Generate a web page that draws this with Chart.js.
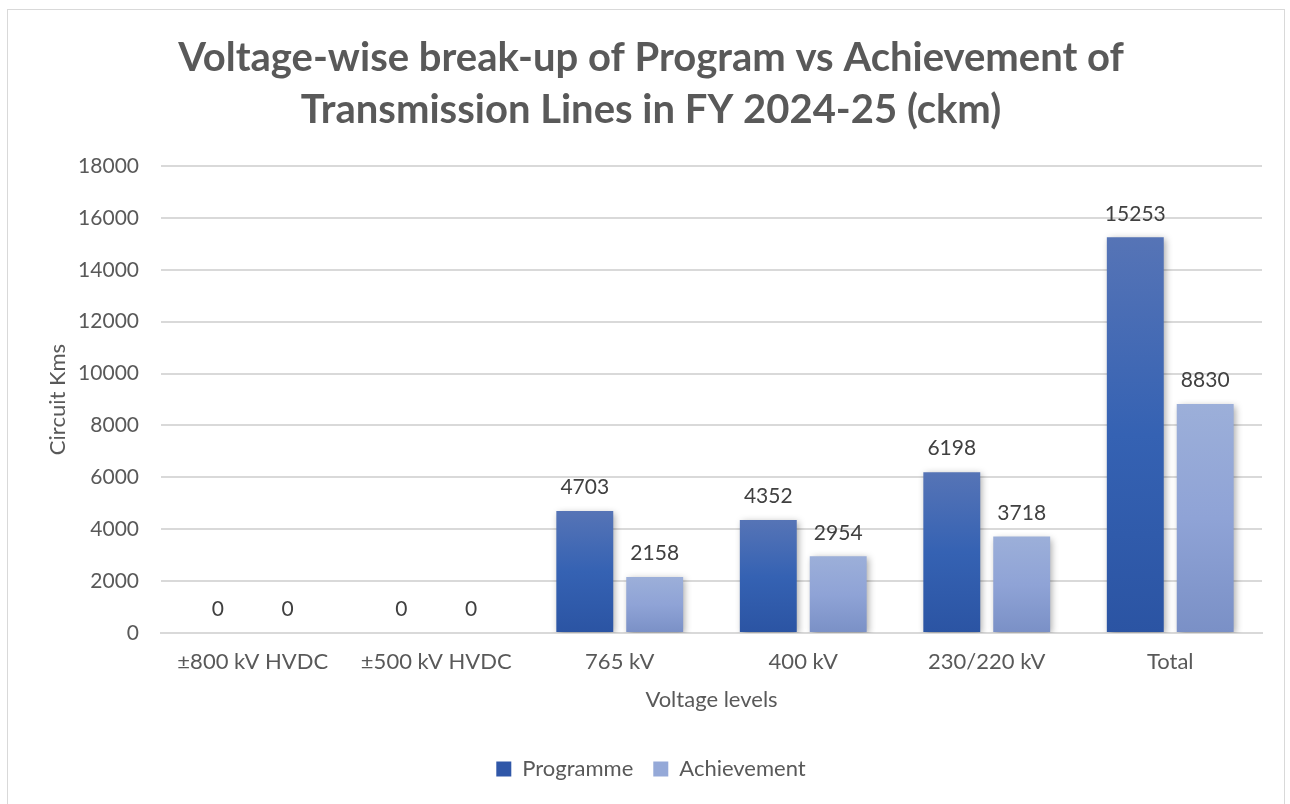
<!DOCTYPE html>
<html>
<head>
<meta charset="utf-8">
<script src="https://cdn.jsdelivr.net/npm/chart.js@4.4.0/dist/chart.umd.min.js"></script>
<style>
  html,body{margin:0;padding:0;background:#fff;}
  #frame{position:absolute;left:7px;top:9px;width:1278px;height:810px;border:1px solid #d9d9d9;box-sizing:border-box;}
  #wrap{position:absolute;left:0;top:0;width:1290px;height:804px;}
</style>
</head>
<body>
<div id="frame"></div>
<div id="wrap"><canvas id="c" width="1290" height="804"></canvas></div>
<script>
const categories = ['±800 kV HVDC', '±500 kV HVDC', '765 kV', '400 kV', '230/220 kV', 'Total'];
const programme = [0, 0, 4703, 4352, 6198, 15253];
const achievement = [0, 0, 2158, 2954, 3718, 8830];
const yTicks = [0, 2000, 4000, 6000, 8000, 10000, 12000, 14000, 16000, 18000];
const titleLines = ['Voltage-wise break-up of Program vs Achievement of', 'Transmission Lines in FY 2024-25 (ckm)'];

const FONT = 'Lato, Calibri, "Open Sans", sans-serif';
const TEXT = '#595959';

function barGradient(top, bottom) {
  return function(ctx) {
    const chart = ctx.chart;
    const ys = chart.scales && chart.scales.y;
    if (!chart.chartArea || !ys || ctx.type !== 'data') return bottom;
    const v = ctx.raw;
    const yTop = ys.getPixelForValue(v);
    const yBase = ys.getPixelForValue(0);
    if (!isFinite(yTop) || Math.abs(yBase - yTop) < 1) return bottom;
    const g = chart.ctx.createLinearGradient(0, yTop, 0, yBase);
    g.addColorStop(0, top[0]);
    g.addColorStop(0.5, top[1]);
    g.addColorStop(1, bottom);
    return g;
  };
}

const shadowPlugin = {
  id: 'shadow',
  beforeDatasetsDraw(chart) {
    const c = chart.ctx;
    c.save();
    c.shadowColor = 'rgba(0,0,0,0.35)';
    c.shadowBlur = 7;
    c.shadowOffsetX = 2;
    c.shadowOffsetY = 2;
  },
  afterDatasetsDraw(chart) {
    chart.ctx.restore();
  }
};

const labelPlugin = {
  id: 'vals',
  afterDatasetsDraw(chart) {
    const c = chart.ctx;
    c.save();
    c.font = '21px ' + FONT;
    c.fillStyle = '#404040';
    c.textAlign = 'center';
    c.textBaseline = 'bottom';
    chart.data.datasets.forEach((ds, i) => {
      const meta = chart.getDatasetMeta(i);
      meta.data.forEach((el, j) => {
        c.fillText(String(ds.data[j]), el.x, el.y - 13);
      });
    });
    c.restore();
  }
};

new Chart(document.getElementById('c'), {
  type: 'bar',
  data: {
    labels: categories,
    datasets: [
      {
        label: 'Programme',
        data: programme,
        backgroundColor: barGradient(['#5674b6', '#3562b3'], '#2b54a3'),
        legendColor: '#3057a8',
        borderWidth: 0,
        categoryPercentage: 0.762,
        barPercentage: 0.814
      },
      {
        label: 'Achievement',
        data: achievement,
        backgroundColor: barGradient(['#9cafd9', '#8fa3d6'], '#7a90c6'),
        legendColor: '#95a9d8',
        borderWidth: 0,
        categoryPercentage: 0.762,
        barPercentage: 0.814
      }
    ]
  },
  options: {
    responsive: false,
    animation: false,
    layout: { padding: { left: 40, right: 28, top: 32, bottom: 14 } },
    plugins: {
      title: {
        display: true,
        text: titleLines,
        color: TEXT,
        font: { family: FONT, size: 40, weight: 'bold', lineHeight: 1.3 },
        padding: { top: 0, bottom: 30 }
      },
      legend: {
        position: 'bottom',
        labels: {
          font: { family: FONT, size: 22 },
          color: TEXT,
          boxWidth: 15,
          boxHeight: 15,
          padding: 20,
          generateLabels(chart) {
            return chart.data.datasets.map((ds, i) => ({
              text: ds.label,
              fillStyle: ds.legendColor,
              strokeStyle: ds.legendColor,
              lineWidth: 0,
              hidden: false,
              datasetIndex: i,
              fontColor: TEXT
            }));
          }
        }
      },
      tooltip: { enabled: false }
    },
    scales: {
      x: {
        grid: { display: false, drawTicks: false },
        border: { display: true, color: '#d9d9d9', width: 2 },
        ticks: { color: TEXT, font: { family: FONT, size: 22 }, padding: 16 },
        title: { display: true, text: 'Voltage levels', color: TEXT, font: { family: FONT, size: 22, lineHeight: 0.8 }, padding: { top: 0, bottom: 29 } }
      },
      y: {
        min: 0, max: 18000,
        afterBuildTicks(scale) { scale.ticks = yTicks.map(v => ({ value: v })); },
        afterFit(scale) { scale.width = 121; },
        grid: { color: '#d9d9d9', lineWidth: 2, drawTicks: false },
        border: { display: false },
        ticks: { color: TEXT, font: { family: FONT, size: 21 }, padding: 22, callback: v => String(v) },
        title: { display: true, text: 'Circuit Kms', color: TEXT, font: { family: FONT, size: 22 }, padding: { top: 5, bottom: 4 } }
      }
    }
  },
  plugins: [shadowPlugin, labelPlugin]
});
</script>
</body>
</html>
